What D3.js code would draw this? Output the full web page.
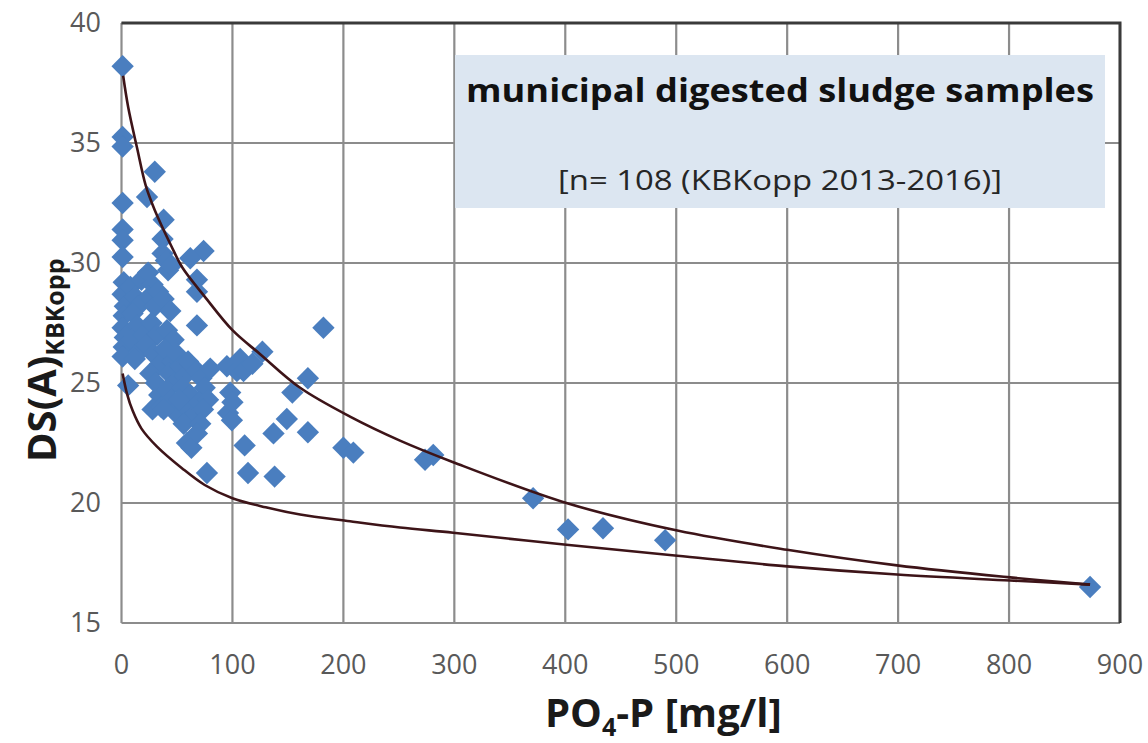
<!DOCTYPE html>
<html>
<head>
<meta charset="utf-8">
<script src="https://cdn.jsdelivr.net/npm/d3@7"></script>
<style>
	body { margin: 0; background: #fff; }
	svg { display: block; }
	.tick-label { font-family: 'Liberation Sans Narrow', 'Open Sans', sans-serif; fill: #595959; font-size: 27px; }
	.axis-title { font-family: 'Open Sans', sans-serif; font-weight: bold; fill: #1a1a1a; }
</style>
</head>
<body>
<script>
// PO4-P [mg/l] and DS(A) of each sample
const sampleP = [
	1, 1, 1, 30, 23, 1, 38, 1, 1, 1, 37, 37, 74, 62, 68, 68, 68, 182,
	2, 1, 3, 2, 1, 3, 2, 1, 6,
	8, 12, 15, 10, 18, 14, 9, 16, 20, 12,
	24, 28, 25, 30, 33, 27, 32, 22, 29, 35, 26, 31, 34, 28, 36,
	40, 42, 45, 38, 44, 41, 47, 39, 46, 43, 49, 41, 45, 48, 38, 50,
	53, 57, 60, 55, 62, 58, 64, 56, 59, 63, 52,
	68, 72, 75, 70, 78, 73.5, 71, 68, 77, 80,
	95, 98, 96, 99.5, 104, 107, 110, 111, 114, 118, 127, 100,
	137, 138, 149, 154, 168, 168, 200, 209, 273.6, 281, 371, 402.5, 434, 490, 873
]
const sampleDS = [
	38.2, 35.25, 34.85, 33.8, 32.75, 32.5, 31.8, 31.4, 30.95, 30.25, 31.0, 30.4, 30.5, 30.2, 29.3, 28.8, 27.4, 27.3,
	29.2, 28.7, 28.2, 27.8, 27.3, 26.9, 26.5, 26.1, 24.9,
	29.0, 28.6, 28.2, 27.9, 29.3, 27.4, 26.8, 26.3, 27.0, 26.0,
	29.6, 29.1, 28.6, 28.2, 28.8, 27.5, 27.0, 26.6, 26.2, 25.8, 25.4, 25.0, 24.5, 23.9, 24.0,
	30.1, 29.7, 29.9, 28.5, 28.0, 27.2, 26.8, 26.4, 25.9, 25.4, 25.1, 24.7, 24.3, 23.8, 23.9, 26.2,
	25.7, 25.3, 25.9, 24.8, 24.5, 24.0, 23.6, 23.3, 22.5, 22.3, 24.3,
	25.5, 25.2, 24.8, 24.2, 24.3, 23.9, 23.3, 22.9, 21.25, 25.6,
	25.7, 24.6, 23.75, 23.45, 25.5, 26.0, 25.5, 22.4, 21.25, 25.8, 26.3, 24.2,
	22.9, 21.1, 23.5, 24.6, 25.2, 22.95, 22.3, 22.1, 21.8, 22.0, 20.2, 18.9, 18.95, 18.45, 16.5
]

// upper and lower envelope curves
const upperP = [1.5, 6, 14, 22, 30, 45, 55, 75, 100, 125, 161, 206, 251, 299, 401, 501, 600, 699, 801, 873]
const upperDS = [37.8, 36.5, 34.8, 33.2, 32.2, 30.7, 29.8, 28.6, 27.2, 26.2, 24.8, 23.6, 22.6, 21.7, 20.0, 18.85, 18.05, 17.4, 16.9, 16.6]
const lowerP = [1, 5, 10, 18, 32, 54.5, 75, 100, 130, 161, 206, 251, 299, 401, 501, 600, 699, 801, 873]
const lowerDS = [25.4, 24.55, 23.85, 23.1, 22.35, 21.45, 20.75, 20.2, 19.82, 19.52, 19.24, 18.98, 18.76, 18.26, 17.8, 17.36, 17.02, 16.77, 16.6]

const xTicks = [0, 100, 200, 300, 400, 500, 600, 700, 800, 900]
const yTicks = [15, 20, 25, 30, 35, 40]

const titleText = 'municipal digested sludge samples'
const subtitleText = '[n= 108 (KBKopp 2013-2016)]'

const width = 1148
const height = 743
const plot = { left: 121.5, right: 1120, top: 23, bottom: 623 }

const scaleX = d3.scaleLinear().domain([0, 900]).range([plot.left, plot.right])
const scaleY = d3.scaleLinear().domain([15, 40]).range([plot.bottom, plot.top])

const svg = d3.select('body').append('svg')
	.attr('width', width)
	.attr('height', height)

// grid
const grid = svg.append('g').attr('class', 'grid')
grid.selectAll('line.v')
	.data(xTicks)
	.enter().append('line')
		.attr('class', 'v')
		.attr('x1', d => scaleX(d)).attr('x2', d => scaleX(d))
		.attr('y1', plot.top).attr('y2', plot.bottom)
		.attr('stroke', '#8c8c8c').attr('stroke-width', 2.2)
grid.selectAll('line.h')
	.data(yTicks)
	.enter().append('line')
		.attr('class', 'h')
		.attr('x1', plot.left).attr('x2', plot.right)
		.attr('y1', d => scaleY(d)).attr('y2', d => scaleY(d))
		.attr('stroke', '#8c8c8c').attr('stroke-width', 2.2)

// darker frame on top and right
svg.append('path')
	.attr('d', `M${plot.left},${plot.top}H${plot.right}V${plot.bottom}`)
	.attr('fill', 'none')
	.attr('stroke', '#3a3a3a')
	.attr('stroke-width', 3)

// tick labels
svg.append('g').selectAll('text')
	.data(xTicks)
	.enter().append('text')
		.attr('class', 'tick-label')
		.attr('x', d => scaleX(d))
		.attr('y', 674)
		.attr('text-anchor', 'middle')
		.text(d => d)
svg.append('g').selectAll('text')
	.data(yTicks)
	.enter().append('text')
		.attr('class', 'tick-label')
		.attr('x', 101)
		.attr('y', d => scaleY(d) + 9)
		.attr('text-anchor', 'end')
		.text(d => d)

// title box
const box = svg.append('g').attr('class', 'legend-box')
box.append('rect')
	.attr('x', 455).attr('y', 55)
	.attr('width', 650).attr('height', 153)
	.attr('fill', '#dce6f1')
box.append('text')
	.attr('x', 780).attr('y', 102)
	.attr('text-anchor', 'middle')
	.attr('font-family', 'Open Sans, sans-serif')
	.attr('font-weight', 'bold')
	.attr('font-size', 32)
	.attr('fill', '#111')
	.attr('textLength', 628)
	.attr('lengthAdjust', 'spacingAndGlyphs')
	.text(titleText)
box.append('text')
	.attr('x', 780).attr('y', 190)
	.attr('text-anchor', 'middle')
	.attr('font-family', 'Open Sans, sans-serif')
	.attr('font-size', 27)
	.attr('fill', '#262626')
	.attr('textLength', 444)
	.attr('lengthAdjust', 'spacingAndGlyphs')
	.text(subtitleText)

// envelope curves
const line = d3.line()
	.x(d => scaleX(d[0]))
	.y(d => scaleY(d[1]))
	.curve(d3.curveCatmullRom.alpha(0.5))

const curves = [d3.zip(upperP, upperDS), d3.zip(lowerP, lowerDS)]

// samples
const diamond = d3.symbol().type(d3.symbolSquare).size(250)
svg.append('g').attr('class', 'samples')
	.selectAll('path')
	.data(d3.zip(sampleP, sampleDS))
	.enter().append('path')
		.attr('d', diamond)
		.attr('transform', d => `translate(${scaleX(d[0])},${scaleY(d[1])}) rotate(45)`)
		.attr('fill', '#4a7ebf')

svg.append('g').attr('class', 'curves')
	.selectAll('path')
	.data(curves)
	.enter().append('path')
		.attr('d', line)
		.attr('fill', 'none')
		.attr('stroke', '#3d1418')
		.attr('stroke-width', 2.6)

// axis titles
const xTitle = svg.append('text')
	.attr('class', 'axis-title')
	.attr('x', 545).attr('y', 727)
	.attr('font-size', 40)
xTitle.append('tspan').text('PO')
xTitle.append('tspan').attr('font-size', 25).attr('dy', 9).text('4')
xTitle.append('tspan').attr('dy', -9).text('-P [mg/l]')

const yTitle = svg.append('text')
	.attr('class', 'axis-title')
	.attr('transform', 'rotate(-90)')
	.attr('x', -462).attr('y', 56)
	.attr('font-size', 40)
yTitle.append('tspan').text('DS(A)')
yTitle.append('tspan').attr('font-size', 25).attr('dy', 8).text('KBKopp')
</script>
</body>
</html>
